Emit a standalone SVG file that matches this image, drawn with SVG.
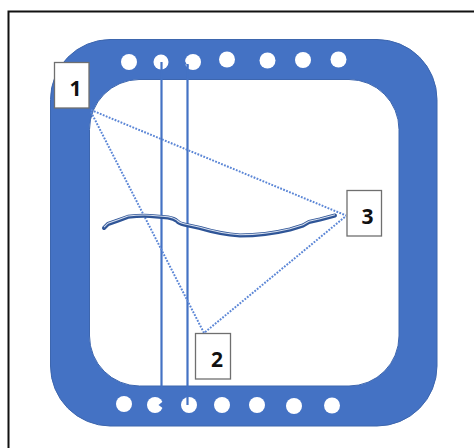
<svg xmlns="http://www.w3.org/2000/svg" width="474" height="448" viewBox="0 0 474 448">
<defs>
<path id="curve" d="M104 228 L108 224 L118 220.500 L128 216.800 Q140 215.500 150 216 L168 217.500 Q174 218.500 177 221 Q179 223.500 184 224.500 L200 228 Q220 234 240 235.500 Q265 235.500 290 229.500 L303 225.500 L309 222 L320 219.500 L335 215.500"/>
</defs>
<style>
.hole{fill:#fff}
.rail{fill:none;stroke:#4472c4;stroke-width:2.200}
.dot{fill:none;stroke:#5b86d6;stroke-width:2;stroke-dasharray:1.800 1.400}
.box{fill:#fff;stroke:#6f6f6f;stroke-width:1.300}
.num{font-family:"Open Sans","Liberation Sans",sans-serif;font-weight:700;font-size:21px;fill:#111;text-anchor:middle}
</style>
<rect width="474" height="448" fill="#fff"/>
<path id="frame" d="M8.500 448V11.500H474" fill="none" stroke="#111" stroke-width="2"/>
<g id="ring">
<path fill-rule="evenodd" fill="#4472c4" stroke="#3d66ae" stroke-width="1" d="M110 39.500H377A60 60 0 0 1 437 99.500V366A60 60 0 0 1 377 426H110A60 60 0 0 1 50.500 366V99.500A60 60 0 0 1 110 39.500Z M139 79.500A50 50 0 0 0 89.500 129.500V336A50 50 0 0 0 139.500 386H349A50 50 0 0 0 399 336V129.500A50 50 0 0 0 349 79.500Z"/>
<g class="hole">
<circle cx="129" cy="62" r="8"/><circle cx="161" cy="62" r="7.500"/><circle cx="193" cy="62" r="8"/><circle cx="227" cy="59.500" r="8"/><circle cx="267.500" cy="60.500" r="8"/><circle cx="303" cy="60" r="8"/><circle cx="338.500" cy="59.500" r="8"/>
<circle cx="124" cy="404" r="8"/><circle cx="155" cy="405" r="8"/><circle cx="189" cy="405" r="8"/><circle cx="222" cy="405" r="8"/><circle cx="257" cy="405" r="8"/><circle cx="294" cy="406" r="8"/><circle cx="332" cy="405.500" r="8"/>
</g>
<path d="M158.500 405L164 400.500V409Z" fill="#4472c4"/>
<path d="M184 59V64.500H188.500V68" fill="#4472c4"/>
</g>
<g id="connectors">
<path class="rail" d="M161.500 62V387"/>
<path class="rail" d="M187.500 64V405"/>
<path class="dot" d="M91 110L346 215.500"/>
<path class="dot" d="M91 112L204 333L346 216"/>
</g>
<g id="curve-shape">
<use href="#curve" fill="none" stroke="#2f5597" stroke-width="4" stroke-linecap="round" stroke-linejoin="round"/>
<use href="#curve" fill="none" stroke="#d5deee" stroke-width="1.100" transform="translate(0 -0.800)"/>
</g>
<g id="node-1"><rect class="box" x="54.500" y="62.500" width="34.500" height="45.500"/><text class="num" x="75.500" y="95.500">1</text></g>
<g id="node-2"><rect class="box" x="195.500" y="333.500" width="35" height="45.500"/><text class="num" x="217" y="367">2</text></g>
<g id="node-3"><rect class="box" x="347" y="190.500" width="34.500" height="45.500"/><text class="num" x="367.500" y="224">3</text></g>
</svg>
